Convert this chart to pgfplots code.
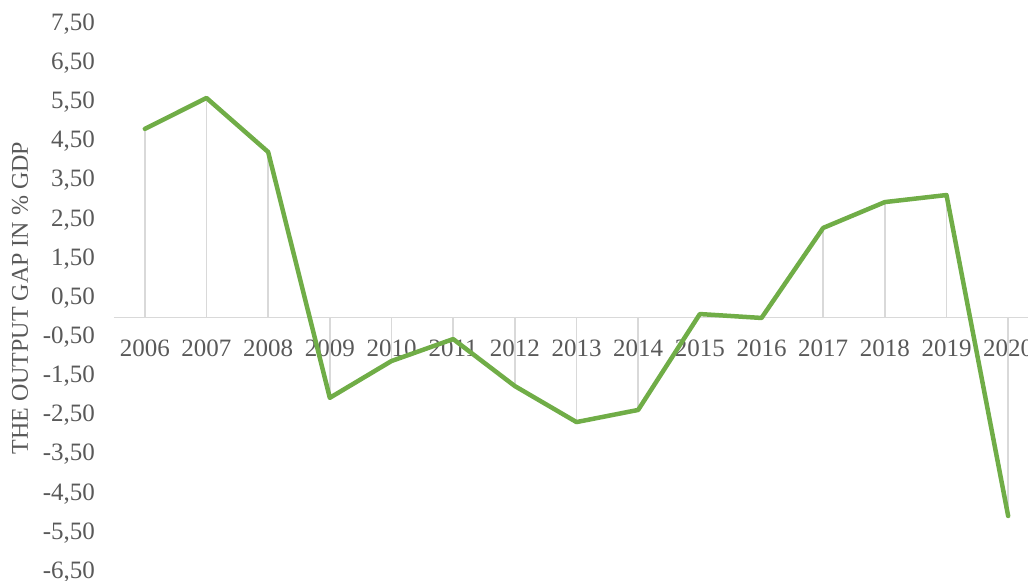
\documentclass[border=0pt]{standalone}
\usepackage{fontspec}
\setmainfont{Liberation Serif}
\usepackage{pgfplots}
\pgfplotsset{compat=1.18}
\definecolor{linegreen}{HTML}{70AD47}
\definecolor{txtgray}{HTML}{595959}
\definecolor{gridgray}{HTML}{D9D9D9}
\pgfplotstableread{
x y
0 4.82
1 5.61
2 4.23
3 -2.05
4 -1.11
5 -0.55
6 -1.75
7 -2.67
8 -2.36
9 0.09
10 -0.01
11 2.29
12 2.95
13 3.13
14 -5.07
}\gapdata
\begin{document}
\begin{tikzpicture}
\useasboundingbox (-57pt,-4.5pt) rectangle (457pt,286pt);
\clip (-57pt,-4.5pt) rectangle (457pt,286pt);
\begin{axis}[
  at={(0,0)}, anchor=south west,
  scale only axis, width=462.5pt, height=274pt,
  xmin=-0.5, xmax=14.5, ymin=-6.5, ymax=7.5,
  axis x line=middle, axis y line=left,
  x axis line style={-, draw=gridgray, line width=0.8pt},
  y axis line style={draw=none},
  major tick length=0pt,
  xtick={0,1,2,3,4,5,6,7,8,9,10,11,12,13,14},
  xticklabels={2006,2007,2008,2009,2010,2011,2012,2013,2014,2015,2016,2017,2018,2019,2020},
  ytick={-6.5,-5.5,-4.5,-3.5,-2.5,-1.5,-0.5,0.5,1.5,2.5,3.5,4.5,5.5,6.5,7.5},
  /pgf/number format/assume math mode=true,
  yticklabel style={/pgf/number format/fixed, /pgf/number format/fixed zerofill, /pgf/number format/precision=2, /pgf/number format/use comma, xshift=-6pt},
  xticklabel style={anchor=north, yshift=-7.5pt},
  tick label style={font=\fontsize{12.5}{14}\selectfont, text=txtgray},
  ylabel={THE OUTPUT GAP IN \% GDP},
  ylabel style={at={([xshift=-47pt]axis description cs:0,0.5)}, anchor=center, rotate=0, font=\fontsize{12}{14}\selectfont, text=txtgray},
  clip=false,
]
\addplot[ycomb, draw=gridgray, line width=0.8pt, mark=none, forget plot] table {\gapdata};
\addplot[linegreen, line width=2.25pt, line join=round, line cap=round, mark=none] table {\gapdata};
\end{axis}
\end{tikzpicture}
\end{document}
